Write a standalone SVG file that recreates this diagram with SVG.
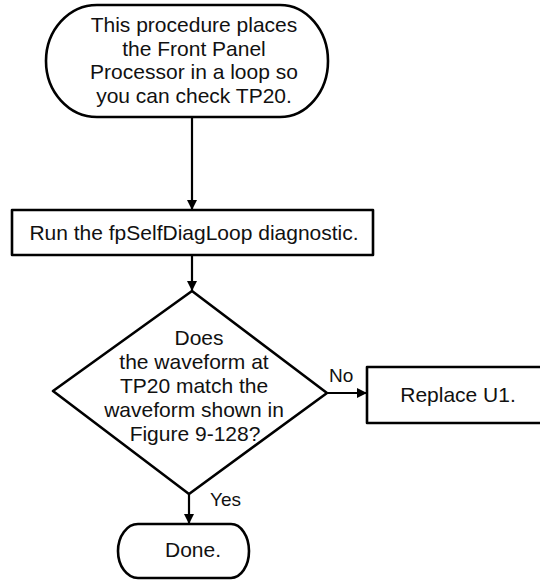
<svg xmlns="http://www.w3.org/2000/svg" width="540" height="582" viewBox="0 0 540 582">
<style>
.s{fill:#fff;stroke:#000;stroke-width:2.6;stroke-linejoin:round}
.t{font-family:"Liberation Sans",Arial,sans-serif;font-size:21px;fill:#111;text-anchor:middle}
.l{font-family:"Liberation Sans",Arial,sans-serif;font-size:19px;fill:#111}
.c{stroke:#000;stroke-width:2.2;fill:none}
</style>
<defs>
<marker id="ah" markerWidth="10" markerHeight="14" refX="10" refY="5" orient="auto" markerUnits="userSpaceOnUse" viewBox="0 0 10 10">
<path d="M0,0 L10,5 L0,10 Z" fill="#000"/>
</marker>
</defs>
<rect width="540" height="582" fill="#fff"/>
<g id="start">
<path class="s" d="M97,5 H280 A48,56 0 0 1 280,117 H97 A51,56 0 0 1 97,5 Z"/>
<text class="t" x="194" y="32">This procedure places</text>
<text class="t" x="194" y="55.5">the Front Panel</text>
<text class="t" x="194" y="79">Processor in a loop so</text>
<text class="t" x="194" y="102.5">you can check TP20.</text>
</g>
<g id="run">
<rect class="s" x="12" y="210" width="361" height="45"/>
<text class="t" x="194" y="240">Run the fpSelfDiagLoop diagnostic.</text>
</g>
<g id="decision">
<path class="s" d="M192,291 L327,393 L189,494 L53,391 Z"/>
<text class="t" x="199" y="345">Does</text>
<text class="t" x="194" y="368.5">the waveform at</text>
<text class="t" x="194" y="392.5">TP20 match the</text>
<text class="t" x="194" y="417">waveform shown in</text>
<text class="t" x="195" y="441">Figure 9-128?</text>
</g>
<g id="replace">
<rect class="s" x="367" y="367" width="180" height="56"/>
<text class="t" x="458" y="402">Replace U1.</text>
</g>
<g id="done">
<path class="s" d="M138,524 H231 A18,27 0 0 1 231,578 H138 A20,27 0 0 1 138,524 Z"/>
<text class="t" x="193" y="557">Done.</text>
</g>
<g id="connectors">
<line class="c" x1="192" y1="117" x2="192" y2="210" marker-end="url(#ah)"/>
<line class="c" x1="192" y1="255" x2="192" y2="291" marker-end="url(#ah)"/>
<line class="c" x1="327" y1="393" x2="367" y2="393" marker-end="url(#ah)"/>
<line class="c" x1="189" y1="494" x2="189" y2="524" marker-end="url(#ah)"/>
<text class="l" x="329" y="382">No</text>
<text class="l" x="210" y="506">Yes</text>
</g>
</svg>
